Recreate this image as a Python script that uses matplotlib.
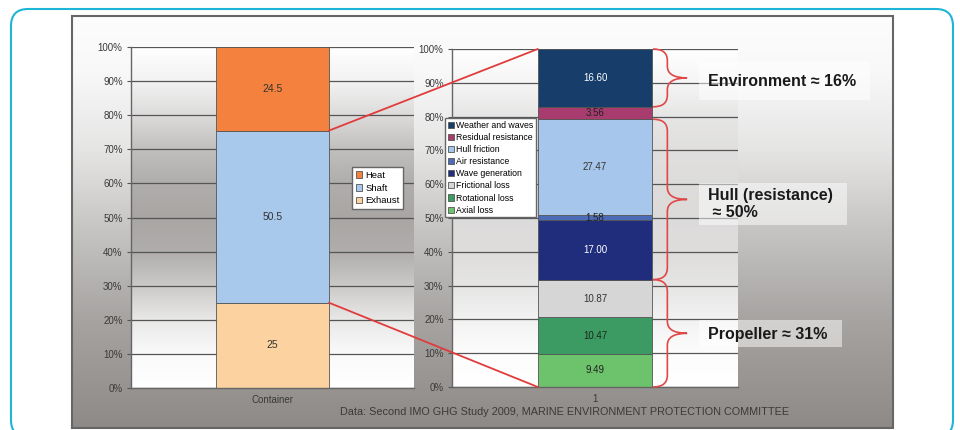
import numpy as np
import matplotlib
matplotlib.use('Agg')
import matplotlib.pyplot as plt
from matplotlib.patches import FancyBboxPatch, Rectangle, PathPatch, ConnectionPatch
from matplotlib.path import Path

plt.rcParams['font.family'] = ['Liberation Sans', 'DejaVu Sans']

# container ship energy split (%)
energy_labels = ['Exhaust', 'Shaft', 'Heat']
energy_values = [25, 50.5, 24.5]
energy_colors = ['#fcd3a0', '#a9c9ec', '#f4823e']

# where the shaft power goes
loss_labels = ['Axial loss', 'Rotational loss', 'Frictional loss', 'Wave generation',
               'Air resistance', 'Hull friction', 'Residual resistance', 'Weather and waves']
loss_values = [9.49, 10.47, 10.87, 17.00, 1.58, 27.47, 3.56, 16.60]
loss_colors = ['#6dc36b', '#3b9b63', '#d6d6d6', '#1f2d7c',
               '#4d6cb8', '#a7c6ec', '#a83c6e', '#173d6b']
loss_text = ['#222', '#1a2a1a', '#333', 'white', '#222', '#333', '#222', 'white']

# brace groups: label, first and last segment index
groups = [('Environment ≈ 16%', 7, 7),
          ('Hull (resistance)\n ≈ 50%', 3, 5),
          ('Propeller ≈ 31%', 0, 2)]

source = 'Data: Second IMO GHG Study 2009, MARINE ENVIRONMENT PROTECTION COMMITTEE'

W, H = 960, 430


def fx(px):
    return px / W


def fy(py):
    return 1 - py / H


def gradient(stops, n=400):
    pos, val = zip(*stops)
    g = np.interp(np.linspace(0, 1, n), pos, val)
    rgb = np.stack([1 - (1 - g) * 0.97, g, 1 - (1 - g) * 1.02], axis=1)
    return np.clip(rgb, 0, 1)[:, None, :]


fig = plt.figure(figsize=(W / 100, H / 100), dpi=100)
fig.patch.set_facecolor('white')

# background layer in pixel units
bg = fig.add_axes([0, 0, 1, 1], zorder=-5)
bg.set_xlim(0, W)
bg.set_ylim(H, 0)
bg.axis('off')
bg.add_patch(FancyBboxPatch((11, 9), 942, 428, boxstyle='round,pad=0,rounding_size=17',
                            fc='white', ec='#1eb6d6', lw=1.5))
panel_stops = [(0, 0.99), (0.13, 0.975), (0.32, 0.9), (0.52, 0.77), (0.74, 0.64), (1, 0.54)]
bg.imshow(gradient(panel_stops), extent=(72, 893, 428, 16), origin='upper', aspect='auto', zorder=1)
bg.add_patch(Rectangle((72, 16), 821, 412, fc='none', ec='#666666', lw=1.5, zorder=2))
bg.set_xlim(0, W)
bg.set_ylim(H, 0)

left_stops = [(0, 1.0), (0.1, 0.95), (0.2, 0.86), (0.3, 0.75), (0.4, 0.68), (0.5, 0.65),
              (0.6, 0.68), (0.7, 0.79), (0.8, 0.91), (0.9, 0.98), (1, 1.0)]
right_stops = [(0, 1.0), (0.1, 0.96), (0.2, 0.9), (0.3, 0.875), (0.45, 0.86), (0.6, 0.865),
               (0.7, 0.9), (0.8, 0.95), (0.9, 0.99), (1, 1.0)]

axL = fig.add_axes([fx(131), fy(388), (414 - 131) / W, (388 - 47) / H])
axR = fig.add_axes([fx(452), fy(387), (738 - 452) / W, (387 - 49) / H])


def style_axis(ax, stops, name):
    ax.set_facecolor('none')
    ax.imshow(gradient(stops), extent=(-0.5, 0.5, 0, 100), origin='upper', aspect='auto', zorder=0)
    ax.set_xlim(-0.5, 0.5)
    ax.set_ylim(0, 100)
    ax.set_yticks(range(0, 101, 10))
    ax.set_yticklabels([f'{t}%' for t in range(0, 101, 10)])
    ax.set_xticks([0])
    ax.set_xticklabels([name])
    ax.tick_params(axis='y', length=3, width=0.8, color='#555', pad=3, labelsize=7, labelcolor='#3a3a3a')
    ax.tick_params(axis='x', length=0, pad=5, labelsize=7, labelcolor='#3a3a3a')
    ax.grid(axis='y', color='#555555', lw=0.9)
    ax.set_axisbelow(True)
    for s in ['top', 'right']:
        ax.spines[s].set_visible(False)
    for s in ['left', 'bottom']:
        ax.spines[s].set_color('#666666')
        ax.spines[s].set_linewidth(1.0)


style_axis(axL, left_stops, 'Container')
style_axis(axR, right_stops, '1')

bar_w = 0.4

# left stacked bar
bottom = 0
for lab, v, c in zip(energy_labels, energy_values, energy_colors):
    axL.bar(0, v, bar_w, bottom=bottom, color=c, edgecolor='#555', lw=0.6, zorder=2, label=lab)
    axL.text(0, bottom + v / 2, f'{v:g}', ha='center', va='center', fontsize=7.5, color='#333', zorder=3)
    bottom += v

# right stacked bar, scaled to 100%
shares = np.array(loss_values) / sum(loss_values) * 100
cum = np.concatenate([[0], np.cumsum(shares)])
for i, (lab, v, c) in enumerate(zip(loss_labels, loss_values, loss_colors)):
    axR.bar(0, shares[i], bar_w, bottom=cum[i], color=c, edgecolor='#555', lw=0.6, zorder=2, label=lab)
    axR.text(0, cum[i] + shares[i] / 2, f'{v:.2f}', ha='center', va='center', fontsize=7,
             color=loss_text[i], zorder=3)

# red lines linking the shaft segment to the breakdown bar
shaft_lo = energy_values[0]
shaft_hi = energy_values[0] + energy_values[1]
for yl, yr in [(shaft_hi, 100), (shaft_lo, 0)]:
    cp = ConnectionPatch(xyA=(bar_w / 2, yl), coordsA='data', axesA=axL,
                         xyB=(-bar_w / 2, yr), coordsB='data', axesB=axR,
                         color='#e03c3c', lw=1.3, zorder=6)
    fig.add_artist(cp)


def brace(ax, y0, y1, x0, x1, r):
    xm = x0 + (x1 - x0) * 0.42
    ym = (y0 + y1) / 2
    verts = [(x0, y1), (xm, y1), (xm, y1 - r),
             (xm, ym + r), (xm, ym), (x1, ym),
             (xm, ym), (xm, ym - r),
             (xm, y0 + r), (xm, y0), (x0, y0)]
    codes = [Path.MOVETO, Path.CURVE3, Path.CURVE3,
             Path.LINETO, Path.CURVE3, Path.CURVE3,
             Path.CURVE3, Path.CURVE3,
             Path.LINETO, Path.CURVE3, Path.CURVE3]
    ax.add_patch(PathPatch(Path(verts, codes), fc='none', ec='#e04848', lw=1.2,
                           clip_on=False, zorder=5))


for lab, i0, i1 in groups:
    span = cum[i1 + 1] - cum[i0]
    brace(axR, cum[i0], cum[i1 + 1], bar_w / 2 + 0.003, 0.322, min(3.5, span / 5))

# legends
hl = [Rectangle((0, 0), 1, 1, fc=c, ec='#555', lw=0.6) for c in energy_colors[::-1]]
fig.legend(hl, energy_labels[::-1], loc='upper left', bbox_to_anchor=(fx(352), fy(167)),
           fontsize=6.8, frameon=True, fancybox=False, edgecolor='#666', framealpha=1,
           handlelength=0.7, handleheight=0.7, handletextpad=0.3, borderpad=0.4,
           labelspacing=0.4, borderaxespad=0).set_zorder(8)
hr = [Rectangle((0, 0), 1, 1, fc=c, ec='#555', lw=0.6) for c in loss_colors[::-1]]
fig.legend(hr, loss_labels[::-1], loc='upper left', bbox_to_anchor=(fx(445), fy(118)),
           fontsize=6.3, frameon=True, fancybox=False, edgecolor='#666', framealpha=1,
           handlelength=0.7, handleheight=0.7, handletextpad=0.3, borderpad=0.3,
           labelspacing=0.36, borderaxespad=0).set_zorder(8)

# overlay for labels in pixel units
top = fig.add_axes([0, 0, 1, 1], zorder=7)
top.set_xlim(0, W)
top.set_ylim(H, 0)
top.axis('off')
top.patch.set_alpha(0)

label_boxes = [(699, 62, 171, 38, 708, 81), (699, 183, 148, 42, 708, 204), (699, 320, 143, 27, 708, 334)]
for (lab, _, _), (bx, by, bw, bh, tx, ty) in zip(groups, label_boxes):
    top.add_patch(Rectangle((bx, by), bw, bh, fc='white', ec='none', alpha=0.5))
    top.text(tx, ty, lab, ha='left', va='center', fontsize=11.5, fontweight='bold',
             color='#1a1a1a', linespacing=1.15)

top.text(340, 412, source, ha='left', va='center', fontsize=7.8, color='#3a3a3a')

fig.savefig('out.png', dpi=100)
